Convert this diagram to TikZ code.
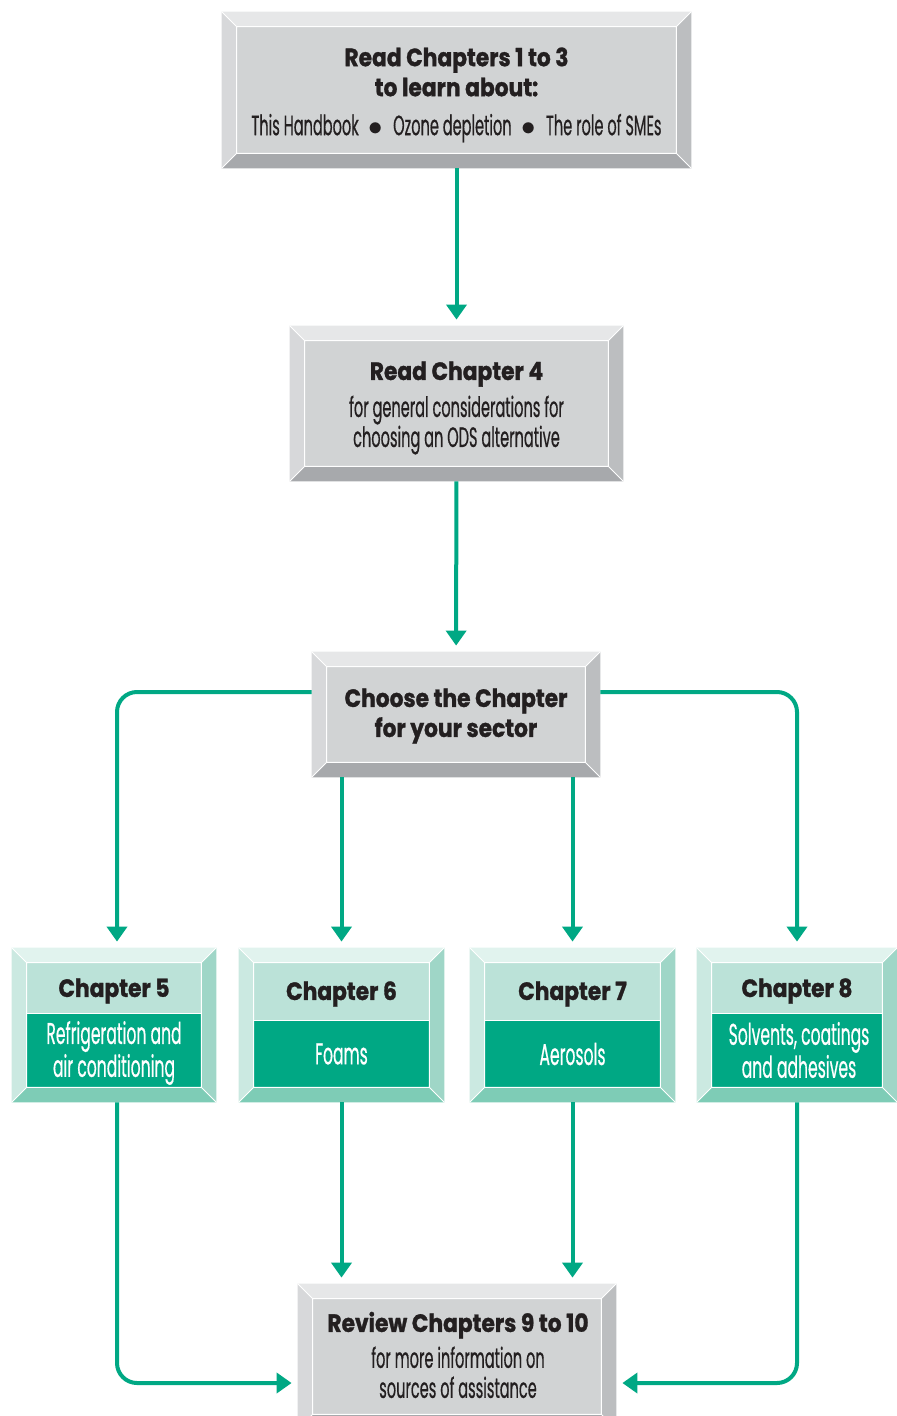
\documentclass[tikz,border=0pt]{standalone}
\usepackage{fontspec}
\setmainfont{Poppins}
\newfontfamily\headfont{Poppins}[FakeStretch=0.87,BoldFeatures={FakeBold=1.2}]
\newfontfamily\bodyfont{Poppins}[FakeStretch=0.52,FakeBold=0.5]
\usetikzlibrary{arrows.meta,calc}

\definecolor{linkgreen}{HTML}{00A884}
\definecolor{inkdark}{HTML}{231F20}
\definecolor{greyface}{HTML}{D1D3D4}
\definecolor{greytop}{HTML}{E6E7E8}
\definecolor{greyleft}{HTML}{D7D8DA}
\definecolor{greyright}{HTML}{BCBEC0}
\definecolor{greybottom}{HTML}{A7A9AC}
\definecolor{mintface}{HTML}{BBE2D8}
\definecolor{minttop}{HTML}{E1F3EE}
\definecolor{mintleft}{HTML}{CBE9E1}
\definecolor{mintright}{HTML}{9FD6C7}
\definecolor{mintbottom}{HTML}{7ECCB6}
\definecolor{tealface}{HTML}{00A884}

\newlength\bw \setlength\bw{7.5pt}
\newcommand\hd{\headfont\bfseries\fontsize{12.5}{15}\selectfont}
\newcommand\bd{\bodyfont\fontsize{14}{15}\selectfont}
\newcommand\cd{\bodyfont\fontsize{15}{15.5}\selectfont}
\newcommand\dotsep{\hspace{5pt}$\bullet$\hspace{5pt}}

% bevelled frame round a node: name, top, left, right, bottom
\newcommand\bevel[5]{%
  \fill[#2] (#1.north west) -- (#1.north east) -- ([shift={(-\bw,-\bw)}]#1.north east) -- ([shift={(\bw,-\bw)}]#1.north west) -- cycle;
  \fill[#3] (#1.north west) -- ([shift={(\bw,-\bw)}]#1.north west) -- ([shift={(\bw,\bw)}]#1.south west) -- (#1.south west) -- cycle;
  \fill[#4] (#1.north east) -- ([shift={(-\bw,-\bw)}]#1.north east) -- ([shift={(-\bw,\bw)}]#1.south east) -- (#1.south east) -- cycle;
  \fill[#5] (#1.south west) -- ([shift={(\bw,\bw)}]#1.south west) -- ([shift={(-\bw,\bw)}]#1.south east) -- (#1.south east) -- cycle;
  \draw[white,line width=0.5pt] ([shift={(\bw,-\bw)}]#1.north west) rectangle ([shift={(-\bw,\bw)}]#1.south east)
    (#1.north west) -- ([shift={(\bw,-\bw)}]#1.north west)
    (#1.north east) -- ([shift={(-\bw,-\bw)}]#1.north east)
    (#1.south west) -- ([shift={(\bw,\bw)}]#1.south west)
    (#1.south east) -- ([shift={(-\bw,\bw)}]#1.south east);
}

\begin{document}
\begin{tikzpicture}[x=0.5pt,y=-0.5pt,
    greybox/.style={fill=greyface,inner sep=0pt},
    chapbox/.style={fill=mintface,inner sep=0pt,minimum height=77pt},
    boxtext/.style={align=center,text=inkdark,font=\fontsize{12}{15}\selectfont},
    link/.style={linkgreen,line width=2pt,-{Triangle[width=10pt,length=7.5pt]},shorten >=3pt}]
  \useasboundingbox (0,0) rectangle (897,1416);

  % top of the path
  \node[greybox,minimum width=234.5pt,minimum height=78pt] (read13) at (456.5,90) {};
  \bevel{read13}{greytop}{greyleft}{greyright}{greybottom}
  \node[boxtext] (read13t) at (456.5,95)
    {\hd Read Chapters 1 to 3\\ \hd to learn about:\\[4.5pt]
     \bd This Handbook\dotsep Ozone depletion\dotsep The role of SMEs};

  \node[greybox,minimum width=166.5pt,minimum height=77.5pt] (read4) at (456.5,403.5) {};
  \bevel{read4}{greytop}{greyleft}{greyright}{greybottom}
  \node[boxtext] (read4t) at (456.5,408)
    {\hd Read Chapter 4\\[3.5pt] \bd for general considerations for\\ \bd choosing an ODS alternative};

  \node[greybox,minimum width=144pt,minimum height=62.5pt] (choose) at (456,714.5) {};
  \bevel{choose}{greytop}{greyleft}{greyright}{greybottom}
  \node[boxtext] (chooset) at (456,716)
    {\hd Choose the Chapter\\ \hd for your sector};

  % sector chapters
  \node[chapbox,minimum width=102pt] (ch5) at (114,1025) {};
  \fill[tealface] (27,1013) rectangle (202,1087);
  \bevel{ch5}{minttop}{mintleft}{mintright}{mintbottom}
  \draw[white,line width=0.5pt] (27,1013) -- (202,1013);
  \node[boxtext] (ch5t) at (114,991) {\hd Chapter 5};
  \node[boxtext,text=white] (ch5d) at (114,1053) {\cd Refrigeration and\\ \cd air conditioning};

  \node[chapbox,minimum width=102.5pt] (ch6) at (341.5,1025) {};
  \fill[tealface] (254,1020) rectangle (429,1087);
  \bevel{ch6}{minttop}{mintleft}{mintright}{mintbottom}
  \draw[white,line width=0.5pt] (254,1020) -- (429,1020);
  \node[boxtext] (ch6t) at (341.5,994) {\hd Chapter 6};
  \node[boxtext,text=white] (ch6d) at (341.5,1054) {\cd Foams};

  \node[chapbox,minimum width=102.5pt] (ch7) at (572.5,1025) {};
  \fill[tealface] (485,1020) rectangle (660,1087);
  \bevel{ch7}{minttop}{mintleft}{mintright}{mintbottom}
  \draw[white,line width=0.5pt] (485,1020) -- (660,1020);
  \node[boxtext] (ch7t) at (572.5,994) {\hd Chapter 7};
  \node[boxtext,text=white] (ch7d) at (572.5,1054) {\cd Aerosols};

  \node[chapbox,minimum width=100pt] (ch8) at (797,1025) {};
  \fill[tealface] (712,1013) rectangle (882,1087);
  \bevel{ch8}{minttop}{mintleft}{mintright}{mintbottom}
  \draw[white,line width=0.5pt] (712,1013) -- (882,1013);
  \node[boxtext] (ch8t) at (797,991) {\hd Chapter 8};
  \node[boxtext,text=white] (ch8d) at (799,1050) {\cd Solvents, coatings\\ \cd and adhesives};

  % end of the path
  \node[greybox,minimum width=159pt,minimum height=72.5pt] (review) at (457,1356.5) {};
  \bevel{review}{greytop}{greyleft}{greyright}{greybottom}
  \node[boxtext] (reviewt) at (458,1355)
    {\hd Review Chapters 9 to 10\\[3pt] \bd for more information on\\ \bd sources of assistance};

  % connectors
  \draw[link] (read13) -- (read4);
  \draw[link] (read4) -- (choose);
  \draw[link,rounded corners=10pt] ([yshift=11.25pt]choose.west) -| ([xshift=1.5pt]ch5.north);
  \draw[link] (choose.south -| ch6.north) -- (ch6.north);
  \draw[link] (choose.south -| ch7.north) -- (ch7.north);
  \draw[link,rounded corners=10pt] ([yshift=11.25pt]choose.east) -| (ch8.north);
  \draw[link,rounded corners=10pt] ([xshift=1.5pt]ch5.south) |- ([yshift=-13.25pt]review.west);
  \draw[link] (ch6.south) -- (ch6.south |- review.north);
  \draw[link] (ch7.south) -- (ch7.south |- review.north);
  \draw[link,rounded corners=10pt] (ch8.south) |- ([yshift=-13.25pt]review.east);
\end{tikzpicture}
\end{document}
